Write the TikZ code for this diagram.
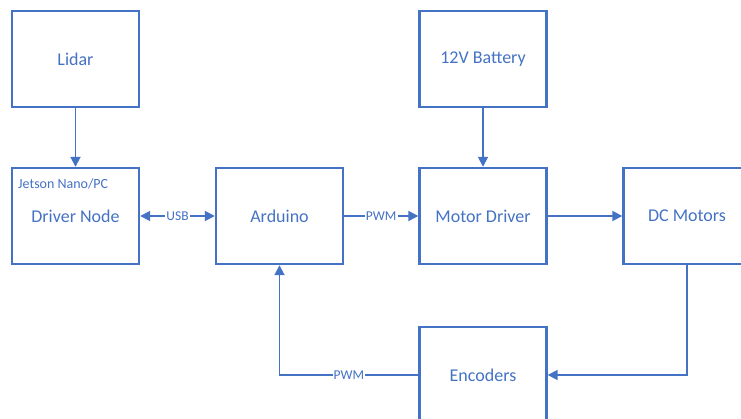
\documentclass[tikz,border=0pt]{standalone}
\usepackage{fontspec}
\setmainfont{Carlito}
\usetikzlibrary{arrows.meta}
\definecolor{ob}{HTML}{4472C4}
\begin{document}
\begin{tikzpicture}[x=1pt,y=-1pt,
  box/.style={draw=ob, line width=2.4pt, minimum width=127pt, minimum height=96pt,
    inner sep=0pt, text=ob, font=\fontsize{18}{21}\selectfont},
  conn/.style={draw=ob, line width=1.8pt, -{Triangle[length=10pt,width=10pt]}},
  lbl/.style={fill=white, text=ob, inner sep=1pt, font=\fontsize{13.5}{15}\selectfont}]
\useasboundingbox (0,0) rectangle (741,419);
\clip (0,0) rectangle (741,419);
\node[box] (lidar) at (75.5,59) {Lidar};
\node[box] (drv) at (75.5,216) {Driver Node};
\node[anchor=west, text=ob, inner sep=0pt, font=\fontsize{14}{16}\selectfont] (jet) at (18,184) {Jetson Nano/PC};
\node[box] (ard) at (279.5,216) {Arduino};
\node[box] (bat) at (483,59) {12V Battery};
\node[box] (md) at (483,216) {Motor Driver};
\node[box] (dc) at (687,216) {DC Motors};
\node[box] (enc) at (483,375) {Encoders};
\draw[conn] (lidar) -- (drv);
\draw[conn] (bat) -- (md);
\draw[conn, {Triangle[length=10pt,width=10pt]}-{Triangle[length=10pt,width=10pt]}] (drv) -- node[lbl]{USB} (ard);
\draw[conn] (ard) -- node[lbl]{PWM} (md);
\draw[conn] (md) -- (dc);
\draw[conn] (dc.south) |- (enc.east);
\draw[conn] (enc.west) -| node[lbl, pos=0.25]{PWM} (ard.south);
\end{tikzpicture}
\end{document}
